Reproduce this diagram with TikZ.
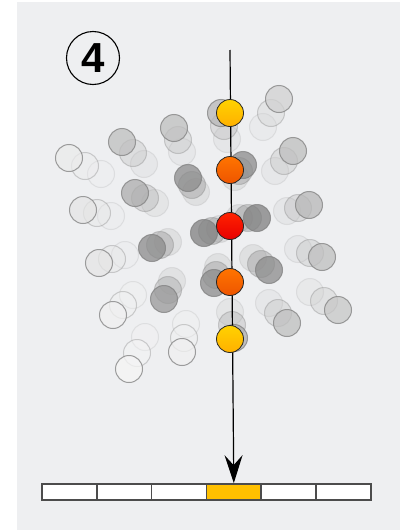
\documentclass[tikz,border=0pt]{standalone}
\usepackage{fontspec}
\setsansfont{Liberation Sans}
\usetikzlibrary{arrows.meta, positioning}

\definecolor{panelgray}{HTML}{EEEFF1}
\definecolor{amber}{HTML}{FFC000}
\definecolor{yellowtop}{HTML}{FFD200}
\definecolor{yellowbot}{HTML}{FFB000}
\definecolor{orangetop}{HTML}{FF7400}
\definecolor{orangebot}{HTML}{EE5500}
\definecolor{redtop}{HTML}{FF2200}
\definecolor{redbot}{HTML}{E80000}

\begin{document}
\begin{tikzpicture}[
    x=1pt, y=-1pt,
    font=\sffamily,
    ghostring/.style={draw=black!50, line width=1pt},
    ball/.style={circle, draw=black!85, line width=0.8pt, minimum size=27pt, inner sep=0pt},
    cell/.style={rectangle, draw=black!70, fill=white, line width=1.7pt, minimum width=54.8pt, minimum height=16pt, inner sep=0pt},
    arrow/.style={-{Stealth[length=28pt, width=18pt, inset=10pt]}, line width=1.2pt, draw=black}
]

\useasboundingbox (0,0) rectangle (408,530);
\fill[panelgray] (17,2) rectangle (400,530);

% ghost trails: lead x / lead y / step x / step y / fill shade
\foreach \gx/\gy/\dx/\dy/\s in {
    69/158/16/8/8, 122/142/11/11/25, 174/128/4/12/25, 221/113/3/13/28,
    279/99/-8/14/18, 293/151/-9/10/25, 309/205/-11/3/28, 243/165/-4/6/45,
    188/178/4/7/45, 135/193/10/5/32, 83/210/14/3/10, 204/233/8/-2/50,
    257/218/-9/0/50, 99/263/13/-4/10, 152/248/8/-3/45, 322/257/-12/-4/25,
    269/270/-8/-6/45, 338/310/-14/-9/22, 287/323/-9/-10/25, 164/299/4/-9/40,
    113/315/10/-10/6, 182/352/2/-14/6, 129/369/8/-16/4, 214/283/2/-8/45,
    234/338/-2/-13/32}
{
    \foreach \k/\o in {2/0.15, 1/0.35, 0/0.75}
        \draw[ghostring, fill=black!\s, opacity=\o] (\gx+\k*\dx, \gy+\k*\dy) circle (13.5pt);
}

% register cells
\foreach \i in {1,...,6}
    \node[cell] (c\i) at ({42+54.8*(\i-0.5)}, 492) {};
\node[cell, fill=amber] at (c4) {};

\coordinate (top) at (230,50);
\draw[arrow] (top) -- (c4.north);

% balls on the path
\node[ball, top color=yellowtop, bottom color=yellowbot] (ball1) at (230,113) {};
\node[ball, top color=orangetop, bottom color=orangebot] (ball2) at (230,170) {};
\node[ball, top color=redtop, bottom color=redbot] (ball3) at (230,226) {};
\node[ball, top color=orangetop, bottom color=orangebot] (ball4) at (230,282) {};
\node[ball, top color=yellowtop, bottom color=yellowbot] (ball5) at (230,339) {};

\node[circle, draw, line width=1.1pt, minimum size=53pt, inner sep=0pt,
      font=\sffamily\bfseries\fontsize{42}{42}\selectfont] (step) at (93,58) {4};

\end{tikzpicture}
\end{document}
